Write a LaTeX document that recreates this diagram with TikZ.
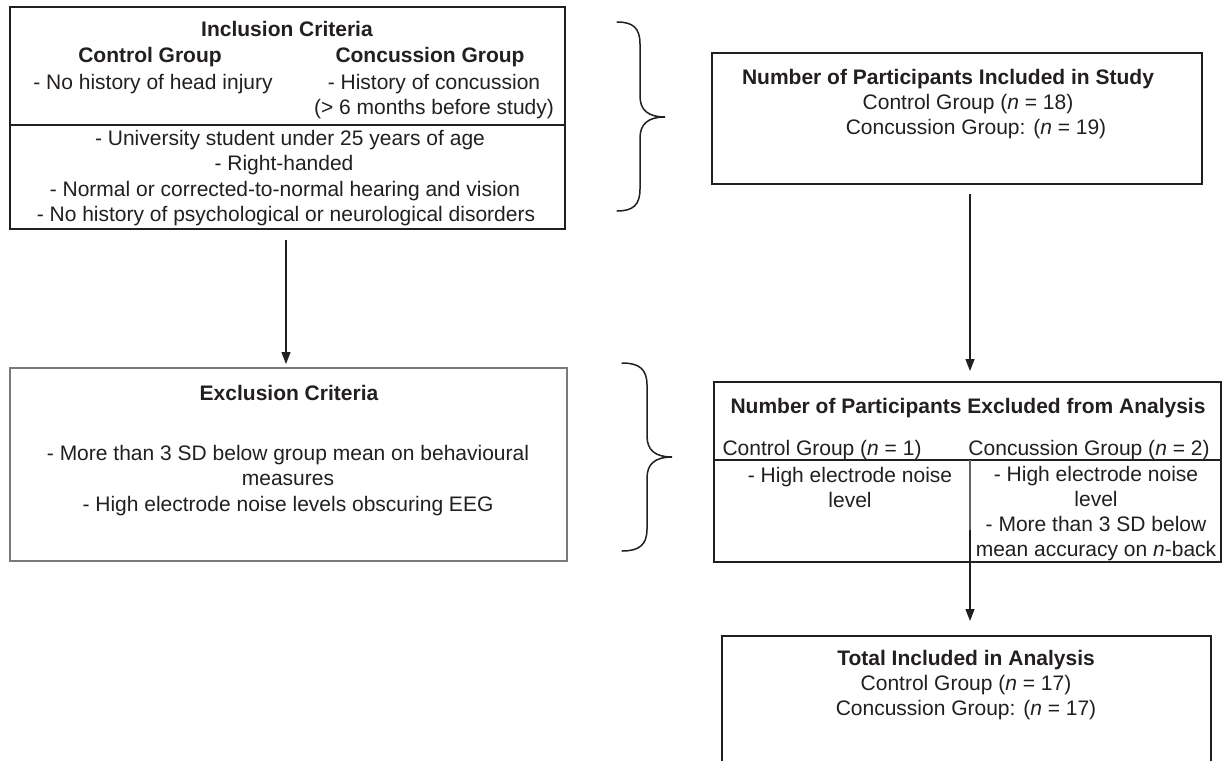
\documentclass[tikz,border=0pt]{standalone}
\usepackage{fontspec}
\setmainfont{Liberation Sans}
\usetikzlibrary{arrows.meta}
\definecolor{ink}{HTML}{231F20}
\begin{document}
\begin{tikzpicture}[x=1pt,y=-1pt,
  box/.style={draw=ink, line width=1.4pt, inner sep=0pt, outer sep=0pt},
  txt/.style={font=\fontsize{21}{25}\selectfont, anchor=base, inner sep=0pt, text=ink},
  txtb/.style={font=\fontsize{21}{25}\selectfont\bfseries, anchor=base, inner sep=0pt, text=ink},
  arr/.style={draw=ink, line width=1.3pt, -{Triangle[width=9pt,length=12pt]}},
  bracestyle/.style={draw=ink, line width=1.5pt, line cap=round}]
\useasboundingbox (0,0) rectangle (1225,760);
\clip (0,0) rectangle (1225,760);
\fill[white] (0,0) rectangle (1225,760);

% Inclusion criteria box
\node[box, minimum width=555pt, minimum height=222pt] (incl) at (287.5,118) {};
\draw[ink, line width=1.2pt] (incl.west |- 0,125) -- (incl.east |- 0,125);
\node[txtb] (inclT) at (287,37) {Inclusion Criteria};
\node[txtb] (inclC) at (150,63) {Control Group};
\node[txtb] (inclK) at (430,63) {Concussion Group};
\node[txt] (inclC1) at (153,89) {- No history of head injury};
\node[txt] (inclK1) at (434,89) {- History of concussion};
\node[txt] (inclK2) at (434,114) {(> 6 months before study)};
\node[txt] (inclL1) at (290,145) {- University student under 25 years of age};
\node[txt] (inclL2) at (284,170.5) {- Right-handed};
\node[txt] (inclL3) at (285,196) {- Normal or corrected-to-normal hearing and vision};
\node[txt] (inclL4) at (286,221) {- No history of psychological or neurological disorders};

% Brace 1
\coordinate (b1s) at (617,22);
\coordinate (b1t) at (665,117);
\coordinate (b1e) at (617,211);
\draw[bracestyle] (b1s) .. controls (633,22) and (640,28) .. (640,44)
  -- (640,96) .. controls (640,110) and (648,117) .. (b1t)
  .. controls (648,117) and (640,124) .. (640,138)
  -- (640,189) .. controls (640,205) and (633,211) .. (b1e);

% Included in study box
\node[box, line width=2pt, minimum width=490pt, minimum height=131pt] (stud) at (957,118.5) {};
\node[txtb] (studT) at (948,84) {Number of Participants Included in Study};
\node[txt] (studC) at (968,109) {Control Group (\textit{n} = 18)};
\node[txt] (studK) at (976,134) {Concussion Group: (\textit{n} = 19)};

% Exclusion criteria box
\node[box, draw=ink!60, line width=1.1pt, minimum width=557pt, minimum height=193pt] (excr) at (288.5,464.5) {};
\node[txtb] (excrT) at (289,400) {Exclusion Criteria};
\node[txt] (excr1) at (288,460) {- More than 3 SD below group mean on behavioural};
\node[txt] (excr2) at (288,485.5) {measures};
\node[txt] (excr3) at (288,511) {- High electrode noise levels obscuring EEG};

% Brace 2
\coordinate (b2s) at (622,363);
\coordinate (b2t) at (672,457);
\coordinate (b2e) at (622,551);
\draw[bracestyle] (b2s) .. controls (639,363) and (647,369) .. (647,385)
  -- (647,436) .. controls (647,450) and (655,457) .. (b2t)
  .. controls (655,457) and (647,464) .. (647,478)
  -- (647,529) .. controls (647,545) and (639,551) .. (b2e);

% Excluded from analysis box
\node[box, line width=1.5pt, minimum width=507pt, minimum height=180pt] (excl) at (967.5,472) {};
\draw[ink, line width=1.3pt] (excl.west |- 0,460) -- (excl.east |- 0,460);
\coordinate (vd) at (970,460);
\draw[ink!70, line width=1.1pt] (vd) -- (970,562);
\node[txtb] (exclT) at (968,413) {Number of Participants Excluded from Analysis};
\node[txt] (exclC) at (822,455.5) {Control Group (\textit{n} = 1)};
\node[txt] (exclK) at (1089,455.5) {Concussion Group (\textit{n} = 2)};
\node[txt] (exclC1) at (850,482) {- High electrode noise};
\node[txt] (exclC2) at (850,507) {level};
\node[txt] (exclK1) at (1096,481) {- High electrode noise};
\node[txt] (exclK2) at (1096,506) {level};
\node[txt] (exclK3) at (1096,531) {- More than 3 SD below};
\node[txt] (exclK4) at (1096,556) {mean accuracy on \textit{n}-back};

% Total box (runs past the lower edge)
\node[box, line width=2pt, minimum width=489pt, minimum height=150pt] (tot) at (966.5,711) {};
\node[txtb] (totT) at (966,665) {Total Included in Analysis};
\node[txt] (totC) at (966,690) {Control Group (\textit{n} = 17)};
\node[txt] (totK) at (966,715) {Concussion Group: (\textit{n} = 17)};

% Arrows
\coordinate (a1s) at (286,240);
\coordinate (a1e) at (286,364);
\draw[arr] (a1s) -- (a1e);
\coordinate (a2s) at (970,194);
\coordinate (a2e) at (970,371);
\draw[arr] (a2s) -- (a2e);
\coordinate (a3s) at (970,530);
\coordinate (a3e) at (970,621);
\draw[arr] (a3s) -- (a3e);
\end{tikzpicture}
\end{document}
